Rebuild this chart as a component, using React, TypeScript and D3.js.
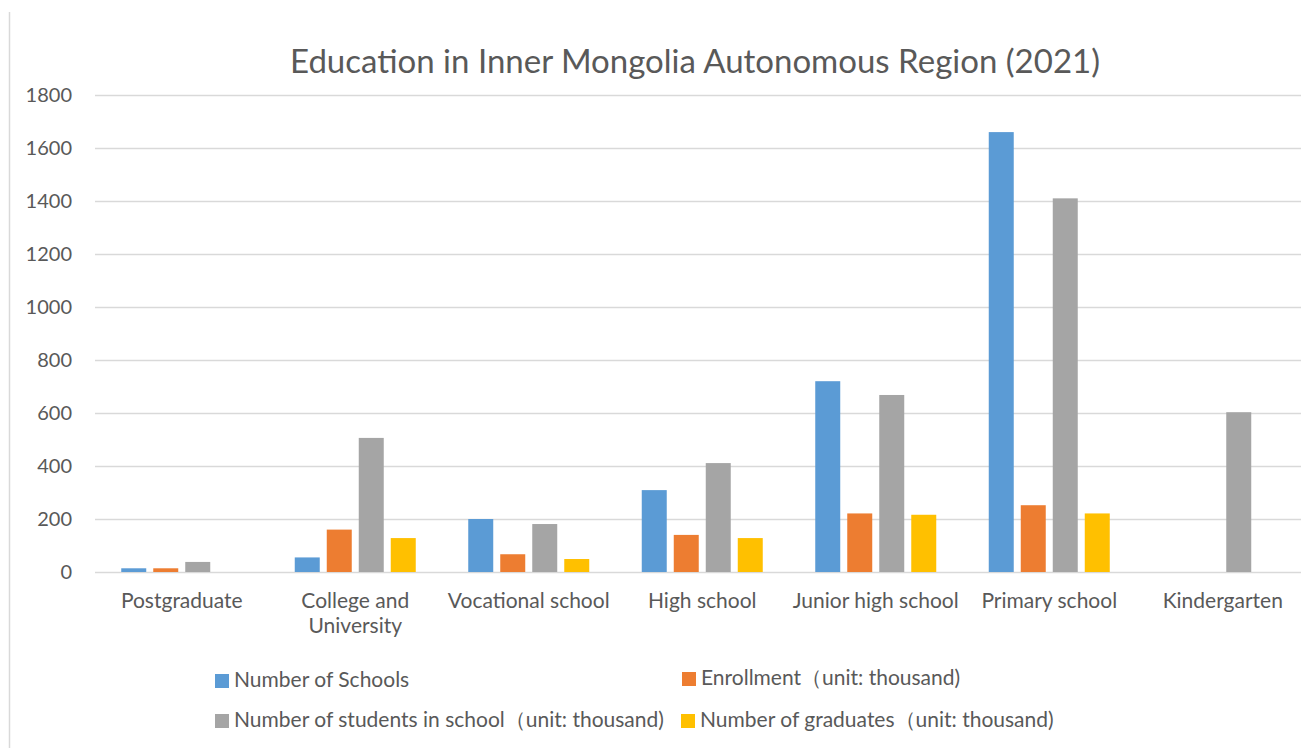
import React, { useEffect, useRef } from 'react';
import * as d3 from 'd3';

const categories = [
  'Postgraduate',
  'College and University',
  'Vocational school',
  'High school',
  'Junior high school',
  'Primary school',
  'Kindergarten',
];

const seriesNames = [
  'Number of Schools',
  'Enrollment（unit: thousand)',
  'Number of students in school（unit: thousand)',
  'Number of graduates（unit: thousand)',
];

const schools = [14, 55, 200, 309, 720, 1660, 0];
const enrollment = [14, 160, 67, 140, 221, 252, 0];
const studentsInSchool = [38, 506, 181, 411, 668, 1410, 603];
const graduates = [0, 128, 49, 128, 216, 221, 0];

const yTicks = [0, 200, 400, 600, 800, 1000, 1200, 1400, 1600, 1800];
const colors = ['#5B9BD5', '#ED7D31', '#A5A5A5', '#FFC000'];

const W = 1301;
const H = 748;
const FONT = 'Lato, "Open Sans", sans-serif';

function draw(node: SVGSVGElement) {
  const svg = d3.select(node);
  svg.selectAll('*').remove();

  const series = [schools, enrollment, studentsInSchool, graduates];
  const plot = { left: 95, right: 1309.5, top: 95, bottom: 572 };

  const x0 = d3
    .scaleBand<string>()
    .domain(categories)
    .range([plot.left, plot.right])
    .paddingInner(0.3026)
    .paddingOuter(0.1513);

  const x1 = d3
    .scaleBand<number>()
    .domain(d3.range(series.length))
    .range([0, x0.bandwidth()])
    .paddingInner(0.219);

  const y = d3.scaleLinear().domain([0, 1800]).range([plot.bottom, plot.top]);

  // left border of the screenshot
  svg
    .append('line')
    .attr('x1', 9.5)
    .attr('x2', 9.5)
    .attr('y1', 12)
    .attr('y2', H)
    .attr('stroke', '#d9d9d9')
    .attr('stroke-width', 1.5);

  // title
  svg
    .append('text')
    .attr('x', 695)
    .attr('y', 73)
    .attr('text-anchor', 'middle')
    .attr('font-family', FONT)
    .attr('font-size', 33)
    .attr('fill', '#595959')
    .text('Education in Inner Mongolia Autonomous Region (2021)');

  // gridlines + y labels
  const yAxis = svg.append('g');
  yAxis
    .selectAll('line')
    .data(yTicks)
    .join('line')
    .attr('x1', plot.left)
    .attr('x2', W)
    .attr('y1', (d) => Math.round(y(d)) + 0.5)
    .attr('y2', (d) => Math.round(y(d)) + 0.5)
    .attr('stroke', '#d9d9d9')
    .attr('stroke-width', 1.3);
  yAxis
    .selectAll('text')
    .data(yTicks)
    .join('text')
    .attr('x', 72)
    .attr('y', (d) => y(d))
    .attr('dy', '0.35em')
    .attr('text-anchor', 'end')
    .attr('font-family', FONT)
    .attr('font-size', 20)
    .attr('fill', '#595959')
    .text((d) => String(d));

  // bars
  svg
    .append('g')
    .selectAll('g')
    .data(categories)
    .join('g')
    .attr('transform', (c) => `translate(${x0(c)},0)`)
    .selectAll('rect')
    .data((c) => series.map((s, si) => ({ si, v: s[categories.indexOf(c)] })))
    .join('rect')
    .filter((d) => d.v > 0)
    .attr('x', (d) => x1(d.si) as number)
    .attr('y', (d) => y(d.v))
    .attr('width', x1.bandwidth())
    .attr('height', (d) => y(0) - y(d.v))
    .attr('fill', (d) => colors[d.si]);

  // category labels (wrapped to the band step)
  const maxW = x0.step() - 2;
  const labels = svg
    .append('g')
    .attr('font-family', FONT)
    .attr('font-size', 21)
    .attr('fill', '#595959')
    .attr('text-anchor', 'middle');
  categories.forEach((c) => {
    const cx = (x0(c) as number) + x0.bandwidth() / 2;
    const t = labels.append('text').attr('x', cx).attr('y', 608);
    const words = c.split(' ');
    let line: string[] = [];
    let tspan = t.append('tspan').attr('x', cx).attr('dy', 0);
    words.forEach((w) => {
      line.push(w);
      tspan.text(line.join(' '));
      if ((tspan.node() as SVGTextContentElement).getComputedTextLength() > maxW && line.length > 1) {
        line.pop();
        tspan.text(line.join(' '));
        line = [w];
        tspan = t.append('tspan').attr('x', cx).attr('dy', 25).text(w);
      }
    });
  });

  // legend
  const legendPos = [
    { x: 215, y: 680 },
    { x: 682, y: 678 },
    { x: 215, y: 720 },
    { x: 681, y: 720 },
  ];
  const legend = svg
    .append('g')
    .selectAll('g')
    .data(seriesNames)
    .join('g')
    .attr('transform', (d, i) => `translate(${legendPos[i].x},${legendPos[i].y})`);
  legend
    .append('rect')
    .attr('x', 0)
    .attr('y', -6)
    .attr('width', 14)
    .attr('height', 14)
    .attr('fill', (d, i) => colors[i]);
  legend
    .append('text')
    .attr('x', 19)
    .attr('y', 0)
    .attr('dy', '0.35em')
    .attr('font-family', FONT)
    .attr('font-size', 21)
    .attr('fill', '#595959')
    .text((d) => d);
}

export default function App() {
  const ref = useRef<SVGSVGElement>(null);
  useEffect(() => {
    if (ref.current) draw(ref.current);
  }, []);
  return (
    <div style={{ position: 'absolute', left: 0, top: 0, width: W, height: H, background: '#fff' }}>
      <svg ref={ref} width={W} height={H} style={{ display: 'block' }} />
    </div>
  );
}
